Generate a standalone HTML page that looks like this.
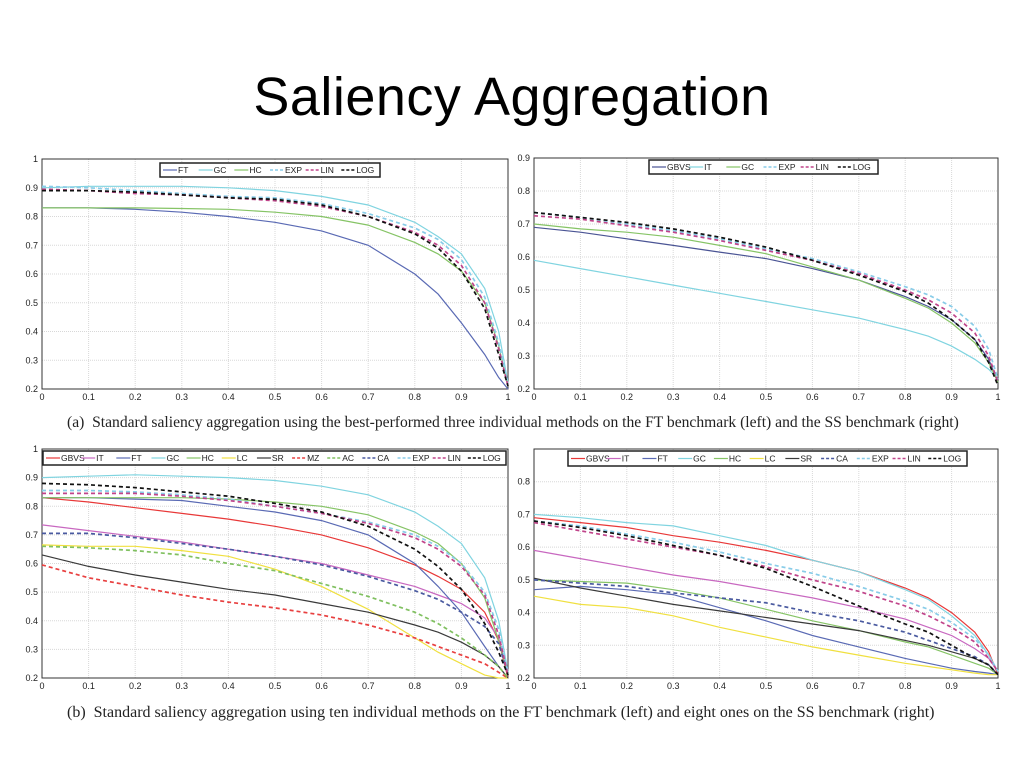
<!DOCTYPE html>
<html><head><meta charset="utf-8"><style>
body{margin:0;width:1024px;height:768px;background:#fff;position:relative;overflow:hidden;font-family:"Liberation Sans",sans-serif}
#title{position:absolute;left:0;width:1024px;top:66px;text-align:center;font-size:54px;color:#000;letter-spacing:0.5px}
.cap{position:absolute;font-family:"Liberation Serif",serif;color:#222;white-space:nowrap}
svg{position:absolute;left:0;top:0}
</style></head><body>
<div id="title">Saliency Aggregation</div>
<div class="cap" style="left:67px;top:414px;font-size:15.6px">(a)&nbsp; Standard saliency aggregation using the best-performed three individual methods on the FT benchmark (left) and the SS benchmark (right)</div>
<div class="cap" style="left:67px;top:704px;font-size:16px">(b)&nbsp; Standard saliency aggregation using ten individual methods on the FT benchmark (left) and eight ones on the SS benchmark (right)</div>
<svg id="svg" width="1024" height="768"></svg>
<script>
const xs=[0,.1,.2,.3,.4,.5,.6,.7,.8,.85,.9,.95,.98,1];
const xTicks=["0","0.1","0.2","0.3","0.4","0.5","0.6","0.7","0.8","0.9","1"];
// Chart A
const aNames=["FT","GC","HC","EXP","LIN","LOG"];
const aFT=[.83,.83,.825,.815,.80,.78,.75,.70,.60,.53,.43,.32,.24,.20];
const aGC=[.90,.905,.905,.905,.90,.89,.87,.84,.78,.73,.67,.55,.40,.22];
const aHC=[.83,.83,.83,.828,.825,.815,.80,.77,.71,.67,.61,.50,.35,.21];
const aEXP=[.905,.90,.89,.88,.87,.865,.845,.81,.76,.72,.65,.52,.36,.22];
const aLIN=[.895,.89,.88,.875,.865,.855,.835,.80,.745,.70,.63,.50,.34,.21];
const aLOG=[.89,.89,.885,.875,.865,.86,.84,.80,.74,.69,.61,.48,.32,.21];
// Chart B
const bNames=["GBVS","IT","GC","EXP","LIN","LOG"];
const bGBVS=[.69,.675,.655,.635,.615,.595,.565,.53,.48,.45,.41,.35,.29,.22];
const bIT=[.59,.565,.54,.515,.49,.465,.44,.415,.38,.36,.33,.29,.26,.23];
const bGC=[.70,.685,.675,.66,.635,.61,.57,.53,.475,.445,.40,.34,.28,.22];
const bEXP=[.735,.72,.70,.68,.655,.625,.595,.555,.51,.485,.45,.39,.32,.23];
const bLIN=[.725,.715,.695,.675,.65,.62,.59,.55,.50,.47,.43,.37,.30,.22];
const bLOG=[.735,.72,.705,.685,.66,.63,.59,.545,.495,.46,.41,.35,.28,.21];
// Chart C
const cNames=["GBVS","IT","FT","GC","HC","LC","SR","MZ","AC","CA","EXP","LIN","LOG"];
const cGBVS=[.83,.815,.795,.775,.755,.73,.70,.655,.595,.555,.51,.43,.33,.20];
const cIT=[.735,.715,.695,.675,.65,.625,.60,.56,.52,.49,.46,.41,.34,.21];
const cFT=[.83,.83,.825,.82,.80,.78,.75,.70,.60,.52,.43,.31,.24,.20];
const cGC=[.90,.905,.91,.905,.90,.89,.87,.84,.78,.73,.67,.55,.40,.22];
const cHC=[.83,.83,.83,.83,.825,.815,.80,.77,.71,.67,.60,.48,.33,.21];
const cLC=[.665,.66,.66,.645,.625,.58,.52,.44,.34,.29,.25,.21,.20,.20];
const cSR=[.63,.59,.56,.535,.51,.49,.46,.43,.385,.36,.325,.28,.24,.20];
const cMZ=[.595,.55,.52,.49,.465,.445,.42,.385,.34,.31,.28,.25,.22,.20];
const cAC=[.66,.655,.645,.63,.60,.575,.53,.485,.43,.39,.34,.28,.24,.20];
const cCA=[.705,.705,.69,.67,.65,.625,.595,.555,.505,.475,.43,.38,.32,.21];
const cEXP=[.855,.855,.85,.84,.825,.80,.775,.745,.70,.66,.60,.50,.37,.22];
const cLIN=[.845,.845,.845,.835,.82,.80,.775,.74,.69,.65,.59,.49,.35,.21];
const cLOG=[.88,.875,.865,.85,.835,.81,.78,.73,.65,.59,.51,.39,.29,.21];
// Chart D
const dNames=["GBVS","IT","FT","GC","HC","LC","SR","CA","EXP","LIN","LOG"];
const dGBVS=[.69,.675,.66,.635,.615,.59,.56,.525,.475,.445,.40,.34,.28,.21];
const dIT=[.59,.565,.54,.515,.495,.47,.445,.415,.38,.355,.33,.29,.26,.22];
const dFT=[.47,.48,.47,.455,.415,.375,.33,.295,.26,.245,.23,.22,.215,.21];
const dGC=[.70,.69,.675,.665,.635,.605,.56,.525,.47,.44,.39,.33,.27,.22];
const dHC=[.50,.495,.49,.47,.445,.41,.375,.345,.31,.295,.27,.245,.23,.21];
const dLC=[.45,.425,.415,.39,.355,.325,.295,.27,.245,.235,.225,.215,.21,.21];
const dSR=[.505,.475,.45,.425,.405,.385,.365,.345,.315,.30,.28,.26,.24,.21];
const dCA=[.50,.49,.48,.46,.445,.43,.40,.375,.34,.315,.29,.265,.24,.21];
const dEXP=[.68,.665,.64,.615,.585,.55,.52,.48,.435,.41,.37,.32,.27,.22];
const dLIN=[.675,.65,.625,.60,.575,.54,.50,.465,.42,.39,.355,.31,.26,.22];
const dLOG=[.68,.66,.635,.605,.575,.535,.48,.42,.365,.34,.30,.26,.24,.21];

const ST={
 FT:["#5a6ab4",""],GC:["#80d4e0",""],HC:["#86c466",""],EXP:["#88cce8","4,3"],LIN:["#c0448a","4,3"],LOG:["#111","4,3"],
 GBVSb:["#4a5494",""],ITb:["#80d4e0",""],
 GBVS:["#e83838",""],IT:["#c868c0",""],LC:["#f0e040",""],SR:["#3a3a3a",""],MZ:["#e84040","4,3"],AC:["#80c060","4,3"],CA:["#4a5aa0","4,3"]
};
const NS="http://www.w3.org/2000/svg";
const svg=document.getElementById('svg');
function mk(tag,at,parent){const e=document.createElementNS(NS,tag);for(const k in at)e.setAttribute(k,at[k]);(parent||svg).appendChild(e);return e;}

function chart(id,box,ymin,ymax,yLabelMax,names,series,styleKeys,leg){
 const g=mk('g',{});
 
 
 const [x0,y0,x1,y1]=box;
 const X=v=>x0+(x1-x0)*v, Y=v=>y1-(y1-y0)*(v-ymin)/(ymax-ymin);
 mk('rect',{x:x0,y:y0,width:x1-x0,height:y1-y0,fill:'#fff'},g);
 for(let i=0;i<xTicks.length;i++){
  const v=+xTicks[i],x=X(v);
  if(i>0&&i<xTicks.length-1){mk('line',{x1:x,x2:x,y1:y0,y2:y1,stroke:'#d8d8d8','stroke-dasharray':'1,1','stroke-width':1},g);}
  const t=mk('text',{x:x,y:y1+11,'font-size':9,'text-anchor':'middle',fill:'#222'},g);
  
  
  t.textContent=xTicks[i];
 }
 for(let k=Math.round(ymin*10);k<=Math.round(ymax*10);k++){
  const v=k/10,y=Y(v);
  if(k>Math.round(ymin*10)&&k<Math.round(ymax*10)) mk('line',{x1:x0,x2:x1,y1:y,y2:y,stroke:'#d8d8d8','stroke-dasharray':'1,1'},g);
  if(v<=yLabelMax+1e-9){
   const t=mk('text',{x:x0-4,y:y+3,'font-size':9,'text-anchor':'end',fill:'#222'},g);
   
   
   t.textContent=(v===1?'1':v.toFixed(1));
  }
 }
 mk('rect',{x:x0,y:y0,width:x1-x0,height:y1-y0,fill:'none',stroke:'#333','stroke-width':1},g);
 series.forEach((s,i)=>{
  const st=ST[styleKeys[i]];
  const pts=s.map((v,j)=>X(xs[j]).toFixed(1)+','+Y(v).toFixed(1)).join(' ');
  const p=mk('polyline',{points:pts,fill:'none',stroke:st[0],'stroke-width':st[1]?1.7:1.2,'stroke-dasharray':st[1]},g);
  
  
 });
 const [lx0,ly0,lx1,ly1]=leg;
 const lg=mk('g',{},g);
 
 
 mk('rect',{x:lx0,y:ly0,width:lx1-lx0,height:ly1-ly0,fill:'#fff',stroke:'#222','stroke-width':1.5},lg);
 const w=(lx1-lx0-6)/names.length;
 names.forEach((n,i)=>{
  const st=ST[styleKeys[i]];
  const ex=lx0+3+i*w, cy=(ly0+ly1)/2;
  mk('line',{x1:ex,x2:ex+14,y1:cy,y2:cy,stroke:st[0],'stroke-width':st[1]?1.6:1.2,'stroke-dasharray':st[1]?'3,2':''},lg);
  const t=mk('text',{x:ex+15,y:cy+3,'font-size':8.5,fill:'#222'},lg);
  
  
  t.textContent=n;
 });
}
chart('chart-a-ft',[42,159,508,389],0.2,1.0,1.0,aNames,[aFT,aGC,aHC,aEXP,aLIN,aLOG],["FT","GC","HC","EXP","LIN","LOG"],[160,163,380,177]);
chart('chart-a-ss',[534,158,998,389],0.2,0.9,0.9,bNames,[bGBVS,bIT,bGC,bEXP,bLIN,bLOG],["GBVSb","ITb","HC","EXP","LIN","LOG"],[649,160,878,174]);
chart('chart-b-ft',[42,449,508,678],0.2,1.0,1.0,cNames,[cGBVS,cIT,cFT,cGC,cHC,cLC,cSR,cMZ,cAC,cCA,cEXP,cLIN,cLOG],["GBVS","IT","FT","GC","HC","LC","SR","MZ","AC","CA","EXP","LIN","LOG"],[43,451,506,465]);
chart('chart-b-ss',[534,449,998,678],0.2,0.9,0.8,dNames,[dGBVS,dIT,dFT,dGC,dHC,dLC,dSR,dCA,dEXP,dLIN,dLOG],["GBVS","IT","FT","GC","HC","LC","SR","CA","EXP","LIN","LOG"],[568,451,967,466]);
</script>
</body></html>
